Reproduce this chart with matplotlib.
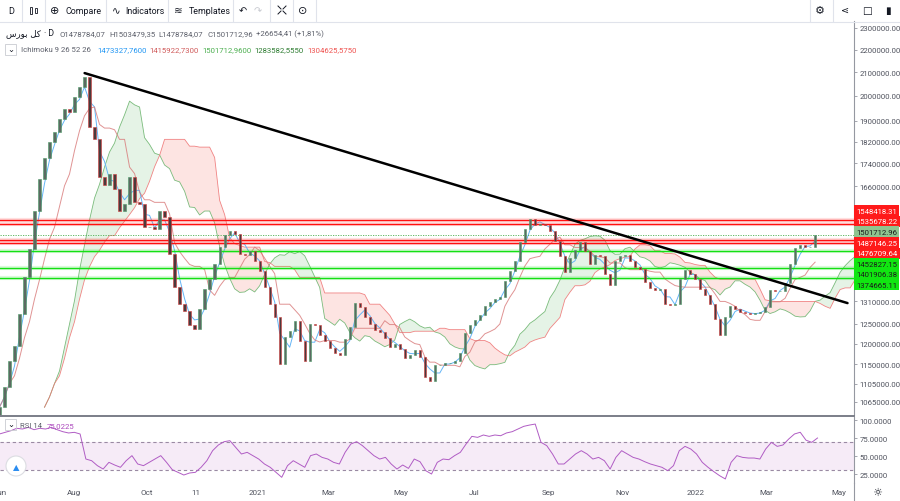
import numpy as np
import pandas as pd
import matplotlib
matplotlib.use('Agg')
import matplotlib.pyplot as plt
from matplotlib.patches import Rectangle, Ellipse
from matplotlib.lines import Line2D

plt.rcParams['font.family'] = ['Roboto', 'DejaVu Sans']

# ---------------- data ----------------
closes_k = [
    1053, 1098, 1158, 1194, 1276, 1377, 1459, 1578, 1685, 1760,
    1819, 1857, 1907, 1946, 1934, 1995, 2037, 2079, 1876, 1830,
    1692, 1664, 1702, 1651, 1578, 1600, 1692, 1607, 1600, 1527,
    1527, 1520, 1578, 1559, 1444, 1349, 1302, 1284, 1248, 1237,
    1289, 1343, 1371, 1415, 1465, 1502, 1514, 1505, 1444, 1441,
    1453, 1423, 1394, 1349, 1302, 1268, 1151, 1217, 1232, 1258,
    1207, 1158, 1250, 1248, 1222, 1207, 1190, 1178, 1173, 1212,
    1242, 1305, 1294, 1268, 1250, 1235, 1230, 1215, 1192, 1200,
    1187, 1166, 1173, 1185, 1168, 1121, 1111, 1149, 1149, 1153,
    1153, 1158, 1178, 1227, 1248, 1260, 1273, 1297, 1308, 1316,
    1322, 1366, 1394, 1423, 1480, 1520, 1552, 1533, 1536, 1533,
    1514, 1483, 1438, 1391, 1432, 1456, 1480, 1453, 1415, 1441,
    1438, 1386, 1355, 1423, 1438, 1441, 1423, 1406, 1400, 1363,
    1346, 1341, 1343, 1302, 1300, 1302, 1371, 1397, 1386, 1371,
    1343, 1327, 1302, 1263, 1222, 1268, 1297, 1289, 1281, 1278,
    1276, 1278, 1281, 1294, 1341, 1338, 1338, 1360, 1415, 1462,
    1471, 1465, 1465, 1501.71296,
]
first_open_k = 1035
first_date = '2020-05-31'
last_date = '2022-04-11'

rsi_values = [
    80.6, 82.9, 85.2, 88.5, 87.5, 89.8, 86.6, 88.5, 87.5, 89.8,
    86.6, 83.8, 82.0, 82.9, 80.6, 45.8, 43.5, 36.6, 31.9, 41.2,
    37.5, 34.3, 43.5, 50.5, 38.9, 36.6, 41.2, 45.8, 50.5, 41.2,
    31.0, 27.3, 23.6, 26.4, 27.3, 34.3, 43.5, 57.4, 65.3, 69.9,
    71.3, 62.0, 52.8, 55.1, 50.5, 45.8, 38.9, 34.3, 27.3, 20.4,
    36.6, 43.5, 38.9, 34.3, 50.5, 52.8, 48.1, 45.8, 41.2, 38.9,
    55.1, 66.7, 69.9, 64.4, 57.4, 50.5, 45.8, 48.1, 38.9, 31.9,
    37.5, 32.8, 45.8, 42.1, 29.6, 25.0, 41.2, 45.8, 44.9, 50.5,
    55.1, 66.7, 77.3, 75.9, 79.2, 77.3, 79.2, 78.2, 82.0, 83.8,
    87.5, 91.2, 93.0, 94.4, 69.0, 64.4, 52.8, 38.9, 38.9, 45.8,
    52.8, 57.4, 52.8, 45.8, 48.1, 43.5, 31.9, 48.1, 57.4, 52.8,
    48.1, 45.8, 42.1, 38.9, 36.6, 34.3, 29.6, 36.6, 57.4, 63.4,
    59.7, 52.8, 41.2, 34.3, 28.3, 22.7, 18.1, 41.2, 50.5, 48.1,
    47.2, 47.2, 45.8, 59.7, 69.0, 63.4, 65.3, 73.6, 80.6, 83.0,
    72.0, 69.0, 75.0225,
]
rsi_last_date = '2022-04-13'

red_levels = [1548418.31, 1535678.22, 1487146.25, 1476709.64]
green_levels = [1452827.15, 1401906.38, 1374665.11]
last_price = 1501712.96

trend_dates = ['2020-08-10', '2022-05-08']
trend_prices = [2096000, 1305000]

price_ticks = [2300000, 2200000, 2100000, 2000000, 1900000, 1820000, 1740000,
               1660000, 1310000, 1250000, 1200000, 1150000, 1105000, 1065000]
rsi_ticks = [25, 50, 75, 100]

time_tick_dates = ['2020-06-01', '2020-08-01', '2020-10-01', '2020-11-11', '2021-01-01',
                   '2021-03-01', '2021-05-01', '2021-07-01', '2021-09-01', '2021-11-01',
                   '2022-01-01', '2022-03-01', '2022-05-01']
time_tick_labels = ['Jun', 'Aug', 'Oct', '11', '2021', 'Mar', 'May', 'Jul', 'Sep', 'Nov',
                    '2022', 'Mar', 'May']

legend_ohlc = ['O1478784,07', 'H1503479,35', 'L1478784,07', 'C1501712,96', '+26654,41 (+1,81%)']
ichimoku_vals = ['1473327,7600', '1415922,7300', '1501712,9600', '1283582,5550', '1304625,5750']
ichimoku_cols = ['#2196f3', '#d05a5a', '#4caf50', '#2e7d32', '#ef5350']

# ---------------- figure ----------------
W, H = 900, 502
fig = plt.figure(figsize=(9, 5.02), dpi=100, facecolor='white')
fx = lambda px: px / W
fy = lambda py: 1 - py / H

ax = fig.add_axes([0, fy(416), 853.5 / W, (416 - 22) / H])
axr = fig.add_axes([0, fy(484), 853.5 / W, (484 - 418) / H], sharex=ax)

close = np.array(closes_k, dtype=float) * 1000
close[-1] = last_price
opens = np.r_[first_open_k * 1000, close[:-1]]
dates = pd.date_range(first_date, last_date, periods=len(close))
step = dates[1] - dates[0]
step_days = step / pd.Timedelta(days=1)

# Ichimoku (periods scaled to this sampling)
s = pd.Series(close)
def mid(n):
    return ((s.rolling(n, min_periods=1).max() + s.rolling(n, min_periods=1).min()) / 2).values
tenkan = mid(3)
kijun = mid(9)
spanA = (tenkan + kijun) / 2
spanB = mid(18)
disp = 9
fut_dates = pd.date_range(dates[0] + disp * step, periods=len(close), freq=step)

ax.fill_between(fut_dates, spanA, spanB, where=spanA >= spanB, interpolate=True,
                color='#4caf50', alpha=0.14, lw=0, zorder=1)
ax.fill_between(fut_dates, spanA, spanB, where=spanA < spanB, interpolate=True,
                color='#f44336', alpha=0.14, lw=0, zorder=1)
ax.plot(fut_dates, spanA, color='#6db56f', lw=0.6, alpha=0.9, zorder=2)
ax.plot(fut_dates, spanB, color='#ef7777', lw=0.6, alpha=0.9, zorder=2)
ax.plot(dates, tenkan, color='#64b5f6', lw=0.7, zorder=3)
ax.plot(dates, kijun, color='#d87878', lw=0.7, alpha=0.8, zorder=3)

# horizontal levels
for lv in red_levels:
    ax.axhline(lv, color='#ff3b3b', lw=3.0, alpha=0.16, zorder=4)
    ax.axhline(lv, color='#ff1010', lw=1.0, zorder=5)
for lv in green_levels:
    ax.axhline(lv, color='#22e622', lw=3.0, alpha=0.16, zorder=4)
    ax.axhline(lv, color='#14e014', lw=1.0, zorder=5)
ax.axhline(last_price, color='#4caf50', lw=0.6, ls=(0, (1.5, 1.5)), zorder=5)

# candles
up = close >= opens
bw = step_days * 0.45
ax.bar(dates[up], (close - opens)[up], bottom=opens[up], width=bw,
       color='#5c6a62', edgecolor='#4a9a66', linewidth=0.4, zorder=6)
ax.bar(dates[~up], (close - opens)[~up], bottom=opens[~up], width=bw,
       color='#4b3a3c', edgecolor='#d63a3a', linewidth=0.4, zorder=6)

# trend line
ax.plot(pd.to_datetime(trend_dates), trend_prices, color='black', lw=1.8, zorder=8,
        solid_capstyle='round')

ax.set_yscale('log')
ax.set_ylim(1036300, 2333400)
ax.set_xlim(pd.Timestamp('2020-05-31 11:00'), pd.Timestamp('2022-05-13'))
ax.yaxis.set_minor_locator(matplotlib.ticker.NullLocator())
ax.yaxis.tick_right()
ax.set_yticks(price_ticks)
ax.set_yticklabels([f'{t:.2f}' for t in price_ticks])
ax.tick_params(axis='y', labelsize=5.6, length=2.5, color='#9598a1', pad=2,
               labelcolor='#50535e', width=0.6)
ax.tick_params(axis='x', bottom=False, labelbottom=False)
for sp in ['top', 'left', 'bottom']:
    ax.spines[sp].set_visible(False)
ax.spines['right'].set_color('#9598a1')
ax.spines['right'].set_linewidth(0.8)

# price labels on axis (stacked)
lab_prices = [red_levels[0], red_levels[1], last_price, red_levels[2], red_levels[3]] + green_levels
lab_fc = ['#ff1a1a', '#ff1a1a', '#8fc48f', '#ff1a1a', '#ff1a1a', '#11e611', '#11e611', '#11e611']
lab_tc = ['white', 'white', '#1b1b1b', 'white', 'white', '#1b1b1b', '#1b1b1b', '#1b1b1b']
lo, hi = np.log(1036300), np.log(2333400)
pane_h = 416 - 22
pos = [(1 - (np.log(p) - lo) / (hi - lo)) * pane_h for p in lab_prices]
gap = 10.6
for _ in range(400):
    for i in range(len(pos) - 1):
        d = pos[i + 1] - pos[i]
        if d < gap:
            sh = (gap - d) / 2
            pos[i] -= sh
            pos[i + 1] += sh
for p, yy, fc, tc in zip(lab_prices, pos, lab_fc, lab_tc):
    ax.text(1.0 + 2.5 / 853.5, 1 - (yy + 3) / pane_h, f'{p:.2f}', transform=ax.transAxes,
            ha='left', va='center', fontsize=5.6, color=tc, zorder=20,
            bbox=dict(boxstyle='square,pad=0.32', fc=fc, ec='none'))

# RSI pane
rsi_dates = pd.date_range(first_date, rsi_last_date, periods=len(rsi_values))
axr.axhspan(30, 70, color='#9c27b0', alpha=0.09, lw=0)
axr.axhline(70, color='#9a8aa3', lw=0.8, ls=(0, (3, 2.5)))
axr.axhline(30, color='#9a8aa3', lw=0.8, ls=(0, (3, 2.5)))
axr.plot(rsi_dates, rsi_values, color='#b05cc4', lw=0.7)
axr.set_ylim(12.5, 104.2)
axr.yaxis.tick_right()
axr.set_yticks(rsi_ticks)
axr.set_yticklabels([f'{t:.4f}' for t in rsi_ticks])
axr.tick_params(axis='y', labelsize=5.6, length=2.5, color='#9598a1', pad=2,
                labelcolor='#50535e', width=0.6)
axr.set_xticks(pd.to_datetime(time_tick_dates))
axr.set_xticklabels(time_tick_labels)
axr.tick_params(axis='x', length=0, labelsize=5.8, labelcolor='#50535e', pad=4)
for sp in ['top', 'left', 'bottom']:
    axr.spines[sp].set_visible(False)
axr.spines['right'].set_color('#9598a1')
axr.spines['right'].set_linewidth(0.8)

# separators
fig.add_artist(Line2D([0, fx(853.5)], [fy(417), fy(417)], color='#7b7e88', lw=1.4))
fig.add_artist(Line2D([0, 1], [fy(22.5), fy(22.5)], color='#e0e3eb', lw=0.8))
fig.add_artist(Line2D([fx(853.5), fx(853.5)], [fy(484), fy(502)], color='#9598a1', lw=0.8))

# toolbar
tb_y = fy(11)
tcol = '#131722'
fig.text(fx(11), tb_y, 'D', fontsize=6.5, color=tcol, ha='center', va='center')
fig.add_artist(Rectangle((fx(29.5), fy(15)), 2.5 / W, 7 / H, transform=fig.transFigure,
                         fill=False, ec=tcol, lw=0.6))
fig.add_artist(Rectangle((fx(34.5), fy(14)), 2.5 / W, 5 / H, transform=fig.transFigure,
                         fill=False, ec=tcol, lw=0.6))
fig.text(fx(55), tb_y, '\u2295', fontsize=8, color=tcol, ha='center', va='center',
         family='DejaVu Sans')
fig.text(fx(65), tb_y, 'Compare', fontsize=6.4, color=tcol, ha='left', va='center')
fig.text(fx(116), tb_y, '\u223f', fontsize=7.5, color=tcol, ha='center', va='center',
         family='DejaVu Sans')
fig.text(fx(125), tb_y, 'Indicators', fontsize=6.4, color=tcol, ha='left', va='center')
fig.text(fx(178), tb_y, '\u224b', fontsize=7.5, color=tcol, ha='center', va='center',
         family='DejaVu Sans')
fig.text(fx(189), tb_y, 'Templates', fontsize=6.4, color=tcol, ha='left', va='center')
fig.text(fx(243), tb_y, '\u21b6', fontsize=7, color=tcol, ha='center', va='center',
         family='DejaVu Sans')
fig.text(fx(258), tb_y, '\u21b7', fontsize=7, color='#c7c9d0', ha='center', va='center',
         family='DejaVu Sans')
# fullscreen icon drawn as four small corner strokes
for (x0, y0, dx, dy) in [(278, 7, 3, 3), (286, 7, -3, 3), (278, 15, 3, -3), (286, 15, -3, -3)]:
    fig.add_artist(Line2D([fx(x0), fx(x0 + dx)], [fy(y0), fy(y0 + dy)], color=tcol, lw=0.7))
fig.text(fx(303), tb_y, '\u2299', fontsize=8, color=tcol, ha='center', va='center',
         family='DejaVu Sans')
fig.text(fx(820), tb_y, '\u2699', fontsize=8, color=tcol, ha='center', va='center',
         family='DejaVu Sans')
fig.text(fx(845), tb_y, '\u22d6', fontsize=7, color=tcol, ha='center', va='center',
         family='DejaVu Sans')
fig.text(fx(867), tb_y, '\u25a1', fontsize=7.5, color=tcol, ha='center', va='center',
         family='DejaVu Sans')
fig.text(fx(888), tb_y, '\u25ae', fontsize=7.5, color=tcol, ha='center', va='center',
         family='DejaVu Sans')
for sx in [22, 45, 106, 168, 233, 270, 293, 316, 810, 833]:
    fig.add_artist(Line2D([fx(sx), fx(sx)], [fy(0), fy(22)], color='#e0e3eb', lw=0.8))

# legend line 1
title_fa = '\uFEB1\uFEAD\uFEEE\uFE91 \uFEDE\uFB90'
fig.text(fx(6), fy(34), title_fa, fontsize=6.2, color=tcol, ha='left', va='center',
         family=['DejaVu Sans'])
fig.text(fx(44), fy(34), '\u00b7 D', fontsize=6.2, color=tcol, ha='left', va='center')
for txt, xp in zip(legend_ohlc, [59, 109, 158, 207, 256]):
    fig.text(fx(xp), fy(34), txt, fontsize=5.6, color='#5d606b', ha='left', va='center')

# legend line 2
fig.add_artist(Rectangle((fx(5), fy(56)), 11 / W, 11 / H, transform=fig.transFigure,
                         fill=False, ec='#c9cbd1', lw=0.6))
fig.text(fx(10.5), fy(49.5), '\u2304', fontsize=6, color=tcol, ha='center', va='center',
         family='DejaVu Sans')
fig.text(fx(21), fy(50), 'Ichimoku 9 26 52 26', fontsize=5.6, color='#5d606b',
         ha='left', va='center')
for txt, xp, c in zip(ichimoku_vals, [97, 149, 202, 254, 307], ichimoku_cols):
    fig.text(fx(xp), fy(50), txt, fontsize=5.6, color=c, ha='left', va='center')

# RSI legend
fig.add_artist(Rectangle((fx(5), fy(431)), 11 / W, 11 / H, transform=fig.transFigure,
                         fill=False, ec='#c9cbd1', lw=0.6, fc='white'))
fig.text(fx(10.5), fy(424.5), '\u2304', fontsize=6, color=tcol, ha='center', va='center',
         family='DejaVu Sans')
fig.text(fx(20), fy(426), 'RSI 14', fontsize=5.6, color='#5d606b', ha='left', va='center')
fig.text(fx(47), fy(426), '75,0225', fontsize=5.6, color='#ab47bc', ha='left', va='center')

# logo circle
fig.add_artist(Ellipse((fx(16), fy(467)), 20 / W, 20 / H, transform=fig.transFigure,
                       fc='white', ec='#dcdde2', lw=0.8))
fig.text(fx(16), fy(467.5), '\u25b2', fontsize=6, color='#2a8cf0', ha='center', va='center',
         family='DejaVu Sans')

# bottom-right icon
fig.text(fx(877), fy(493), '\u263c', fontsize=8, color=tcol, ha='center', va='center',
         family='DejaVu Sans')

fig.savefig('out.png', dpi=100, facecolor='white')
